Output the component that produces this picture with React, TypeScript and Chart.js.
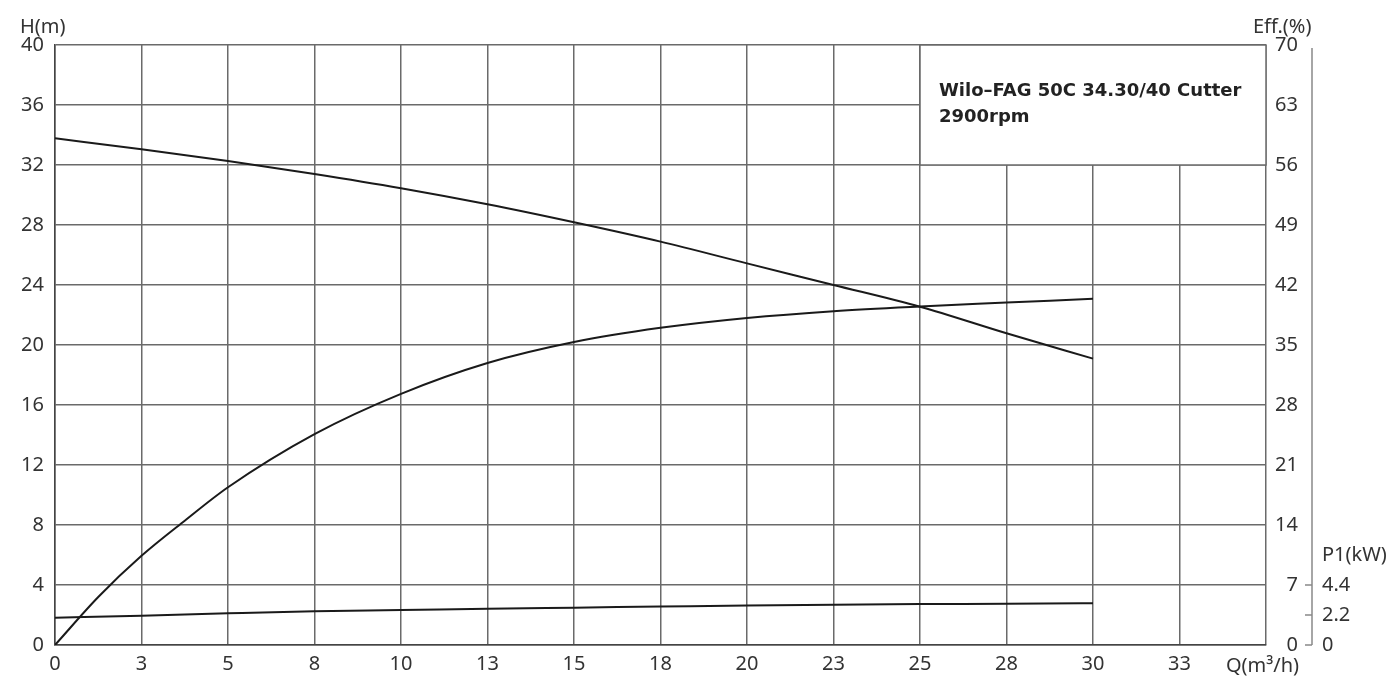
import React, { useEffect, useRef } from 'react';
import { Chart, registerables } from 'chart.js';
Chart.register(...registerables);

// ---- data ----
const flowQ = [0, 2.5, 5, 7.5, 10, 12.5, 15, 17.5, 20, 22.5, 25, 27.5, 30];
const headH = [33.78, 33.05, 32.27, 31.4, 30.45, 29.38, 28.18, 26.89, 25.44, 24.0, 22.55, 20.78, 19.09];
const effQ = [0, 1.25, 2.5, 3.75, 5, 7.5, 10, 12.5, 15, 17.5, 20, 22.5, 25, 27.5, 30];
const effPct = [0, 5.6, 10.4, 14.5, 18.4, 24.6, 29.3, 32.9, 35.35, 37.0, 38.15, 38.95, 39.5, 39.95, 40.4];
const powerP1 = [2.0, 2.15, 2.32, 2.47, 2.56, 2.66, 2.74, 2.82, 2.9, 2.96, 3.0, 3.03, 3.07];

const xTickValues = [0, 2.5, 5, 7.5, 10, 12.5, 15, 17.5, 20, 22.5, 25, 27.5, 30, 32.5, 35];
const xTickLabels = ['0', '3', '5', '8', '10', '13', '15', '18', '20', '23', '25', '28', '30', '33', ''];
const p1TickValues = [0, 2.2, 4.4];
const p1TickLabels = ['0', '2.2', '4.4'];

const titleLine1 = 'Wilo–FAG 50C 34.30/40 Cutter';
const titleLine2 = '2900rpm';

const FONT = "'Noto Sans', sans-serif";
const TEXT = '#333333';
const GRID = '#6a6a6a';

const overlayPlugin = {
  id: 'overlay',
  afterDraw(chart: any) {
    const ctx = chart.ctx;
    const x = chart.scales.x;
    const y = chart.scales.y;
    const p1 = chart.scales.p1;
    ctx.save();
    // legend box (covers grid inside Q 25..35, H 32..40)
    const bx0 = x.getPixelForValue(25);
    const bx1 = x.getPixelForValue(35);
    const by0 = y.getPixelForValue(40);
    const by1 = y.getPixelForValue(32);
    ctx.fillStyle = '#ffffff';
    ctx.fillRect(bx0, by0, bx1 - bx0, by1 - by0);
    ctx.strokeStyle = GRID;
    ctx.lineWidth = 1.5;
    ctx.strokeRect(bx0, by0, bx1 - bx0, by1 - by0);
    ctx.fillStyle = '#222222';
    ctx.font = `bold 18px 'DejaVu Sans', sans-serif`;
    ctx.textAlign = 'left';
    ctx.textBaseline = 'alphabetic';
    ctx.fillText(titleLine1, bx0 + 19, by0 + 51);
    ctx.fillText(titleLine2, bx0 + 19, by0 + 77);

    // P1 axis line and inward tick marks
    const lx = p1.left + 14;
    ctx.strokeStyle = '#888888';
    ctx.lineWidth = 1.5;
    ctx.beginPath();
    ctx.moveTo(lx, p1.top + 3);
    ctx.lineTo(lx, p1.bottom);
    ctx.stroke();
    p1TickValues.forEach((v) => {
      const py = p1.getPixelForValue(v);
      ctx.beginPath();
      ctx.moveTo(lx - 7, py);
      ctx.lineTo(lx, py);
      ctx.stroke();
    });

    // axis titles
    ctx.fillStyle = TEXT;
    ctx.font = `20px ${FONT}`;
    ctx.textBaseline = 'middle';
    ctx.textAlign = 'left';
    ctx.fillText('H(m)', 20, 27);
    ctx.fillText('Eff.(%)', 1253, 27);
    ctx.fillText('P1(kW)', 1322, 555);
    ctx.fillText('Q(m³/h)', 1226, 666);
    ctx.restore();
  },
};

export default function App() {
  const ref = useRef<HTMLCanvasElement>(null);
  useEffect(() => {
    if (!ref.current) return;
    const tickFont = { family: FONT, size: 20 };
    const chart = new Chart(ref.current, {
      type: 'line',
      data: {
        datasets: [
          {
            label: 'H',
            data: flowQ.map((q, i) => ({ x: q, y: headH[i] })),
            yAxisID: 'y',
            borderColor: '#1a1a1a',
            borderWidth: 2,
            pointRadius: 0,
            cubicInterpolationMode: 'monotone',
          },
          {
            label: 'Eff',
            data: effQ.map((q, i) => ({ x: q, y: effPct[i] })),
            yAxisID: 'eff',
            borderColor: '#1a1a1a',
            borderWidth: 2,
            pointRadius: 0,
            cubicInterpolationMode: 'monotone',
          },
          {
            label: 'P1',
            data: flowQ.map((q, i) => ({ x: q, y: powerP1[i] })),
            yAxisID: 'p1',
            borderColor: '#1a1a1a',
            borderWidth: 2,
            pointRadius: 0,
            cubicInterpolationMode: 'monotone',
          },
        ],
      },
      options: {
        responsive: false,
        animation: false,
        layout: { padding: { top: 45, left: 0, right: 0, bottom: 0 } },
        plugins: { legend: { display: false }, tooltip: { enabled: false } },
        scales: {
          x: {
            type: 'linear',
            min: 0,
            max: 35,
            afterBuildTicks: (s: any) => {
              s.ticks = xTickValues.map((v) => ({ value: v }));
            },
            afterFit: (s: any) => {
              s.height = 38;
            },
            ticks: {
              autoSkip: false,
              maxRotation: 0,
              color: TEXT,
              font: tickFont,
              padding: 7,
              callback: (v: any) => {
                const i = xTickValues.indexOf(Number(v));
                return i >= 0 ? xTickLabels[i] : '';
              },
            },
            grid: { color: GRID, lineWidth: 1.5, drawTicks: false },
            border: { color: '#444444', width: 1.5 },
          },
          y: {
            type: 'linear',
            position: 'left',
            min: 0,
            max: 40,
            afterFit: (s: any) => {
              s.width = 55;
            },
            ticks: { stepSize: 4, color: TEXT, font: tickFont, padding: 11 },
            grid: { color: GRID, lineWidth: 1.5, drawTicks: false },
            border: { color: '#444444', width: 1.5 },
          },
          eff: {
            type: 'linear',
            position: 'right',
            weight: 0,
            min: 0,
            max: 70,
            afterFit: (s: any) => {
              s.width = 32;
            },
            ticks: { stepSize: 7, color: TEXT, font: tickFont, padding: 7, crossAlign: 'far' },
            grid: { display: false, drawTicks: false },
            border: { display: false },
          },
          p1: {
            type: 'linear',
            position: 'right',
            weight: 1,
            min: 0,
            max: 44,
            afterBuildTicks: (s: any) => {
              s.ticks = p1TickValues.map((v) => ({ value: v }));
            },
            afterFit: (s: any) => {
              s.width = 101;
            },
            ticks: {
              color: TEXT,
              font: tickFont,
              padding: 24,
              autoSkip: false,
              callback: (v: any) => {
                const i = p1TickValues.indexOf(Number(v));
                return i >= 0 ? p1TickLabels[i] : '';
              },
            },
            grid: { display: false, drawTicks: false, drawOnChartArea: false },
            border: { display: false },
          },
        },
      },
      plugins: [overlayPlugin],
    } as any);
    return () => chart.destroy();
  }, []);
  return (
    <div style={{ position: 'absolute', left: 0, top: 0, width: 1399, height: 683, background: '#fff' }}>
      <canvas ref={ref} width={1399} height={683} style={{ display: 'block' }} />
    </div>
  );
}
